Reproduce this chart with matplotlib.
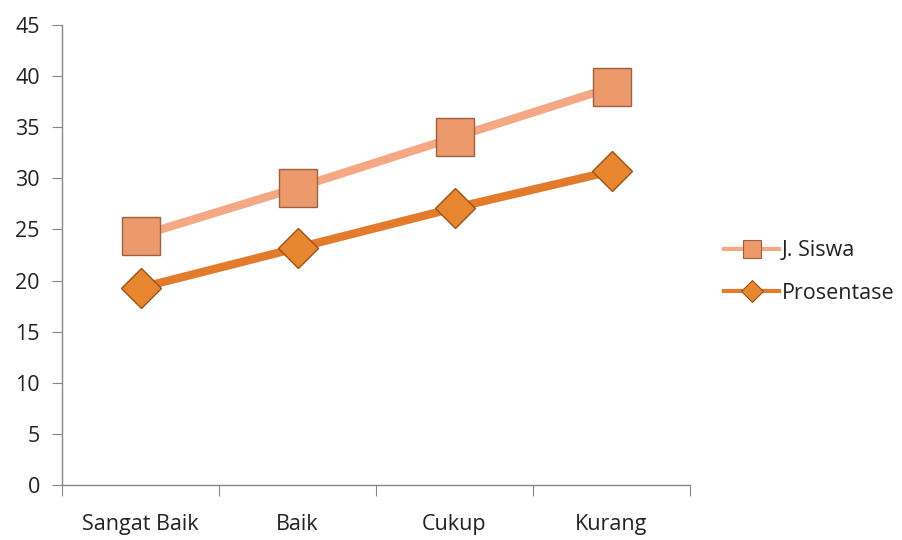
import matplotlib
matplotlib.use("Agg")
import matplotlib.pyplot as plt
from matplotlib.lines import Line2D

categories = ["Sangat Baik", "Baik", "Cukup", "Kurang"]
j_siswa = [24.4, 29.1, 34.0, 38.9]
prosentase = [19.3, 23.2, 27.1, 30.7]
yticks = [0, 5, 10, 15, 20, 25, 30, 35, 40, 45]

plt.rcParams['font.family'] = ['Open Sans', 'DejaVu Sans']
FS = 15.5

fig = plt.figure(figsize=(9.02, 5.4), dpi=100)
ax = fig.add_axes([62/902, 55/540, (690-62)/902, (485-25)/540])

c1_line, c1_face, c1_edge = '#F4A883', '#EC9A6C', '#9E6040'
c2_line, c2_face, c2_edge = '#E27B2C', '#E8852F', '#9A5218'

x = list(range(1, len(categories) + 1))
ax.plot(x, j_siswa, color=c1_line, lw=6, marker='s', ms=27,
        mfc=c1_face, mec=c1_edge, mew=1.0, zorder=3)
ax.plot(x, prosentase, color=c2_line, lw=6, marker='D', ms=20,
        mfc=c2_face, mec=c2_edge, mew=1.0, zorder=4)

ax.set_xlim(0.5, len(categories) + 0.5)
ax.set_ylim(0, 45)
ax.set_yticks(yticks)
ax.set_yticklabels([str(v) for v in yticks])
ax.set_xticks([i + 0.5 for i in range(0, len(categories) + 1)])
ax.set_xticklabels([])
ax.set_xticks(x, minor=True)
ax.set_xticklabels(categories, minor=True)
ax.tick_params(axis='x', which='minor', length=0, pad=21, labelsize=FS, labelcolor='#222222')
ax.tick_params(axis='x', which='major', length=8, color='#868686', direction='out')
ax.tick_params(axis='y', length=7, color='#868686', direction='out', labelsize=FS,
               labelcolor='#222222', pad=9)

for s in ['top', 'right']:
    ax.spines[s].set_visible(False)
for s in ['left', 'bottom']:
    ax.spines[s].set_color('#868686')
    ax.spines[s].set_linewidth(1.0)

handles = [
    Line2D([], [], color=c1_line, lw=3, marker='s', ms=13, mfc=c1_face, mec=c1_edge, mew=0.8),
    Line2D([], [], color=c2_line, lw=3, marker='D', ms=11, mfc=c2_face, mec=c2_edge, mew=0.8),
]
leg = fig.legend(handles, ['J. Siswa', 'Prosentase'], loc='center left',
                 bbox_to_anchor=(705/902, 1 - 272/540),
                 frameon=False, fontsize=FS, handlelength=2.55, handletextpad=0.1,
                 labelspacing=1.0)
for t in leg.get_texts():
    t.set_color('#222222')

fig.savefig('out.png', dpi=100)
